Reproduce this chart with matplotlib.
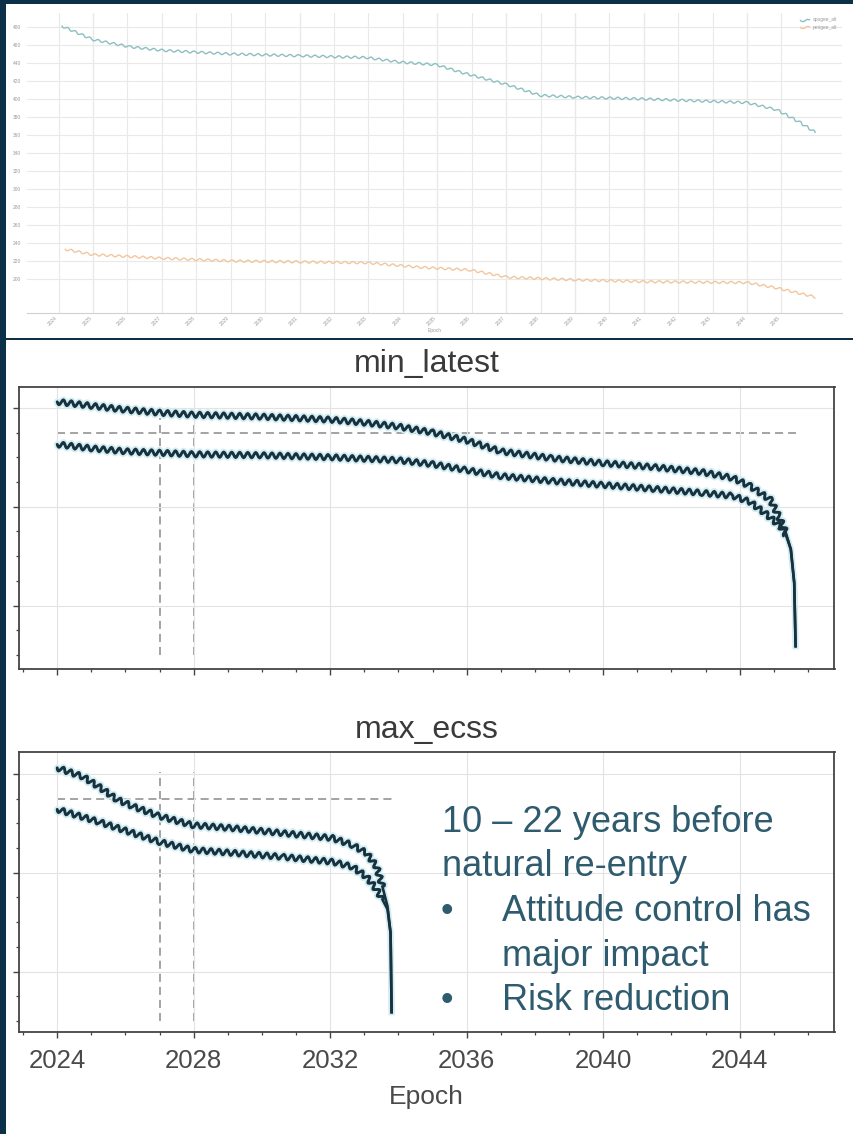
import numpy as np
import matplotlib
matplotlib.use('Agg')
from matplotlib import pyplot as plt
from matplotlib.patches import Rectangle
from matplotlib.ticker import MultipleLocator, NullFormatter

plt.rcParams['font.family'] = ['Liberation Sans', 'DejaVu Sans']
plt.rcParams['lines.scale_dashes'] = False

W, H = 854, 1134

# --- top overview chart (apogee / perigee altitude) ---
top_years_apo = [2024.1, 2025.0, 2026.07, 2027.03, 2029.04, 2031.04, 2032.96, 2033.92,
                 2034.99, 2035.66, 2037.03, 2037.99, 2039.03, 2041.07, 2044.0, 2044.87,
                 2045.54, 2045.98]
top_alt_apo = [481, 466, 458, 454, 450, 448, 446, 441, 438, 430, 416, 404, 402, 400, 396,
               388, 374, 363]
top_years_per = [2024.19, 2025.0, 2027.03, 2029.04, 2031.04, 2032.96, 2034.5, 2035.95,
                 2037.03, 2039.03, 2041.07, 2044.0, 2044.87, 2045.98]
top_alt_per = [233, 227, 223, 220, 219, 218, 213, 210, 202, 199, 197, 196, 190, 180]
top_xticks = list(range(2024, 2046))
top_yticks = list(range(200, 481, 20))

# --- min_latest scenario ---
min_years_hi = [2024.0, 2025.0, 2026.0, 2027.0, 2028.0, 2030.0, 2032.0, 2033.0, 2034.0,
                2035.0, 2036.0, 2037.0, 2038.5, 2040.0, 2041.5, 2042.9, 2043.8, 2044.3,
                2044.9, 2045.15, 2045.35, 2045.5, 2045.6, 2045.64]
min_alt_hi = [606, 602, 598, 595, 593, 591, 588, 585, 581, 575, 567, 556, 549, 544, 540,
              535, 529, 521, 507, 490, 474, 457, 423, 359]
min_years_lo = [2024.0, 2025.0, 2026.0, 2028.0, 2030.0, 2032.0, 2034.0, 2035.0, 2036.0,
                2037.0, 2038.5, 2040.0, 2041.5, 2042.9, 2043.8, 2044.3, 2044.8, 2045.2,
                2045.35, 2045.5, 2045.6, 2045.64]
min_alt_lo = [563, 559, 556, 553, 552, 550, 547, 543, 537, 531, 526, 522, 518, 514, 511,
              505, 492, 480, 472, 457, 423, 359]

# --- max_ecss scenario ---
max_years_hi = [2024.0, 2024.76, 2025.26, 2025.75, 2026.22, 2027.01, 2027.98, 2029.15,
                2030.61, 2032.07, 2032.65, 2033.06, 2033.36, 2033.53, 2033.68, 2033.77,
                2033.8]
max_alt_hi = [606, 597, 586, 574, 567, 557, 548, 545, 540, 535, 528, 520, 506, 486, 466,
              439, 359]
max_years_lo = [2024.0, 2025.26, 2027.01, 2027.98, 2029.15, 2030.61, 2032.07, 2032.65,
                2033.06, 2033.36, 2033.53, 2033.68, 2033.77, 2033.8]
max_alt_lo = [564, 551, 531, 523, 520, 516, 511, 506, 496, 483, 473, 463, 439, 359]

threshold_alt = 575
marker_years = [2027, 2028]
xticks_major = [2024, 2028, 2032, 2036, 2040, 2044]

notes = ["10 \u2013 22 years before", "natural re-entry"]
bullets = [("Attitude control has", "major impact"), ("Risk reduction",)]

navy = '#0c3047'
dark = '#17323e'
halo = '#d3edf2'
text_col = '#2e5b6e'


def px(x, y):
    return x / W, 1 - y / H


fig = plt.figure(figsize=(W / 100, H / 100), dpi=100)

# slide strips
for rect in [(0, 0, 6 / W, 1), (0, 1 - 4 / H, 1, 4 / H), (0, 1 - 340 / H, 1, 2 / H)]:
    fig.patches.append(Rectangle(rect[:2], rect[2], rect[3], transform=fig.transFigure,
                                 facecolor=navy, edgecolor='none', zorder=10))

# ---------- top chart ----------
ax0 = fig.add_axes([27 / W, 1 - 313 / H, 815 / W, 300 / H])
l1, = ax0.plot(top_years_apo, top_alt_apo, color='#8dbfc2', lw=1.0, label='apogee_alt')
l2, = ax0.plot(top_years_per, top_alt_per, color='#f2c6a0', lw=1.0, label='perigee_alt')
for ln in (l1, l2):
    ln.set_sketch_params(1.1, 8, 1)
ax0.set_xlim(2023.08, 2046.76)
ax0.set_ylim(162.2, 495.6)
ax0.set_xticks(top_xticks)
ax0.set_xticklabels([str(y) for y in top_xticks], rotation=45, ha='right', fontsize=3.5,
                    color='#9a9a9a')
ax0.set_yticks(top_yticks)
ax0.set_yticklabels([str(v) for v in top_yticks], fontsize=3.5, color='#9a9a9a')
ax0.tick_params(length=0, pad=4)
ax0.tick_params(axis='x', pad=2)
ax0.grid(True, color='#e9e9e9', lw=0.8)
for x in [2025, 2031, 2035, 2037, 2039, 2041, 2044]:
    ax0.axvline(x, color='#d4d4d4', lw=0.8, zorder=0)
for sp in ['left', 'right', 'top']:
    ax0.spines[sp].set_visible(False)
ax0.spines['bottom'].set_color('#d0d0d0')
ax0.set_xlabel('Epoch', fontsize=3.5, color='#9a9a9a', labelpad=1)
ax0.legend(loc='upper right', fontsize=3.5, frameon=False, handlelength=2,
           labelcolor='#9a9a9a')


# ---------- scenario charts ----------
def wavy(ax, t, v, split_v=468):
    t = np.asarray(t)
    v = np.asarray(v)
    k = int(np.argmax(v < split_v))
    for lw, col, z in [(4.8, halo, 2), (2.1, dark, 3)]:
        ln, = ax.plot(t[:k], v[:k], color=col, lw=lw, zorder=z, solid_capstyle='round')
        ln.set_sketch_params(2.7, 8, 1)
        ax.plot(t[k - 1:], v[k - 1:], color=col, lw=lw * 0.9, zorder=z)


def style(ax, ylim, title, pad):
    ax.set_xlim(2022.88, 2046.78)
    ax.set_ylim(*ylim)
    ax.xaxis.set_major_locator(matplotlib.ticker.FixedLocator(xticks_major))
    ax.xaxis.set_minor_locator(MultipleLocator(1))
    ax.yaxis.set_major_locator(MultipleLocator(100))
    ax.yaxis.set_minor_locator(MultipleLocator(25))
    ax.yaxis.set_major_formatter(NullFormatter())
    ax.grid(True, which='major', color='#e3e3e3', lw=0.8, zorder=0)
    ax.tick_params(which='major', direction='out', length=4.5, width=1.0, color='#444444')
    ax.tick_params(which='minor', direction='out', length=2.5, width=0.9, color='#444444')
    for sp in ax.spines.values():
        sp.set_color('#444444')
        sp.set_linewidth(1.3)
    ax.set_title(title, fontsize=23, color='#3a3a3a', pad=pad)


ax1 = fig.add_axes([19 / W, 1 - 669 / H, 815.5 / W, 282 / H])
wavy(ax1, min_years_hi, min_alt_hi)
wavy(ax1, min_years_lo, min_alt_lo)
ax1.plot([min_years_hi[0], min_years_hi[-1]], [threshold_alt, threshold_alt],
         color='#8a8a8a', lw=1.1, dashes=(5.8, 3.6), zorder=1)
for yr in marker_years:
    ax1.plot([yr, yr], [350, 590], color='#8a8a8a', lw=1.1, dashes=(5.8, 3.6), zorder=1)
style(ax1, (336, 621), 'min_latest', 10.5)
ax1.xaxis.set_major_formatter(NullFormatter())

ax2 = fig.add_axes([19 / W, 1 - 1032 / H, 815.5 / W, 280 / H])
wavy(ax2, max_years_hi, max_alt_hi)
wavy(ax2, max_years_lo, max_alt_lo)
ax2.plot([max_years_hi[0], max_years_hi[-1]], [threshold_alt, threshold_alt],
         color='#8a8a8a', lw=1.1, dashes=(5.8, 3.6), zorder=1)
for yr in marker_years:
    ax2.plot([yr, yr], [350, 602], color='#8a8a8a', lw=1.1, dashes=(5.8, 3.6), zorder=1)
style(ax2, (339, 622), 'max_ecss', 10)
ax2.set_xticklabels([str(y) for y in xticks_major], fontsize=18.5, color='#4a4a4a')
ax2.tick_params(axis='x', which='major', pad=7.5)
ax2.set_xlabel('Epoch', fontsize=19, color='#4a4a4a', labelpad=9)

# annotation text
y = 832
for line in notes:
    fig.text(*px(442, y), line, fontsize=26, color=text_col, va='baseline', ha='left')
    y += 44.5
for group in bullets:
    fig.text(*px(441, y), '\u2022', fontsize=26, color=text_col, va='baseline', ha='left')
    for line in group:
        fig.text(*px(502, y), line, fontsize=26, color=text_col, va='baseline', ha='left')
        y += 44.5

fig.savefig('out.png', dpi=100)
